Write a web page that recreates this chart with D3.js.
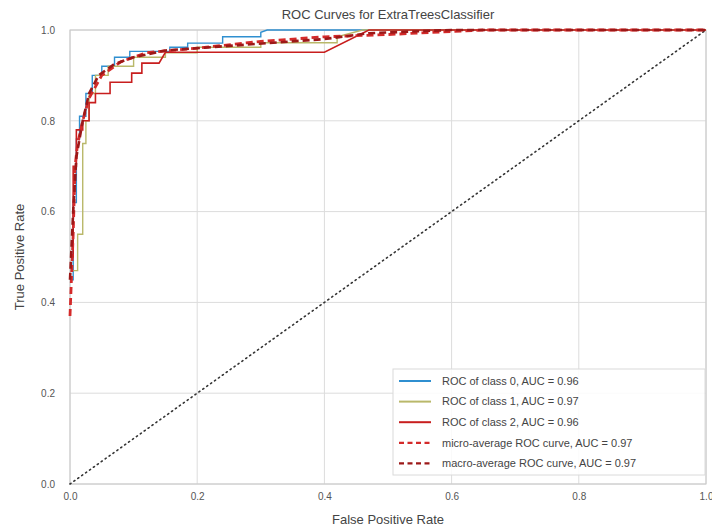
<!DOCTYPE html>
<html lang="en">
<head>
<meta charset="UTF-8">
<title>ROC Curves for ExtraTreesClassifier</title>
<script src="https://d3js.org/d3.v7.min.js"></script>
<style>
    body { margin: 0; background: #fff; }
    text { font-family: "Liberation Sans", Arial, sans-serif; }
</style>
</head>
<body>
<svg width="712" height="531"></svg>
<script>
// fpr / tpr pairs
const class0Fpr = [0, 0.005, 0.005, 0.01, 0.01, 0.015, 0.015, 0.025, 0.025, 0.035, 0.035, 0.05, 0.05, 0.07, 0.07, 0.094, 0.094, 0.157, 0.157, 0.185, 0.185, 0.24, 0.24, 0.30, 0.30, 0.31, 1];
const class0Tpr = [0.45, 0.45, 0.62, 0.62, 0.76, 0.76, 0.81, 0.81, 0.86, 0.86, 0.90, 0.90, 0.92, 0.92, 0.94, 0.94, 0.953, 0.953, 0.962, 0.962, 0.971, 0.971, 0.985, 0.985, 0.995, 1, 1];

const class1Fpr = [0.005, 0.012, 0.012, 0.02, 0.02, 0.025, 0.025, 0.03, 0.03, 0.04, 0.04, 0.06, 0.06, 0.1, 0.1, 0.15, 0.15, 0.2, 0.2, 0.3, 0.3, 0.42, 0.42, 0.46, 1];
const class1Tpr = [0.47, 0.47, 0.55, 0.55, 0.75, 0.75, 0.80, 0.80, 0.86, 0.86, 0.90, 0.90, 0.92, 0.92, 0.94, 0.94, 0.95, 0.95, 0.962, 0.962, 0.972, 0.972, 0.985, 1, 1];

const class2Fpr = [0, 0.005, 0.005, 0.01, 0.01, 0.02, 0.02, 0.03, 0.03, 0.04, 0.04, 0.063, 0.063, 0.097, 0.097, 0.113, 0.113, 0.14, 0.15, 0.40, 0.47, 1];
const class2Tpr = [0.50, 0.50, 0.70, 0.70, 0.78, 0.78, 0.80, 0.80, 0.84, 0.84, 0.86, 0.86, 0.885, 0.885, 0.905, 0.905, 0.927, 0.927, 0.951, 0.951, 1, 1];

const microFpr = [0, 0.005, 0.008, 0.012, 0.02, 0.03, 0.05, 0.08, 0.12, 0.2, 0.3, 0.4, 0.5, 0.65, 1];
const microTpr = [0.37, 0.55, 0.70, 0.75, 0.80, 0.85, 0.90, 0.93, 0.95, 0.96, 0.975, 0.985, 0.99, 1, 1];

const macroFpr = [0, 0.005, 0.01, 0.02, 0.03, 0.045, 0.07, 0.1, 0.15, 0.25, 0.4, 0.47, 0.6, 1];
const macroTpr = [0.45, 0.60, 0.72, 0.80, 0.86, 0.90, 0.925, 0.94, 0.955, 0.965, 0.98, 0.993, 1, 1];

const ticks = [0, 0.2, 0.4, 0.6, 0.8, 1.0];

const series = [
    {label: 'ROC of class 0, AUC = 0.96', fpr: class0Fpr, tpr: class0Tpr, color: '#2f8fd0', width: 1.4, dash: null},
    {label: 'ROC of class 1, AUC = 0.97', fpr: class1Fpr, tpr: class1Tpr, color: '#b9b86a', width: 1.4, dash: null},
    {label: 'ROC of class 2, AUC = 0.96', fpr: class2Fpr, tpr: class2Tpr, color: '#c81e1e', width: 1.6, dash: null},
    {label: 'micro-average ROC curve, AUC = 0.97', fpr: microFpr, tpr: microTpr, color: '#d42a2a', width: 2.8, dash: '7,4'},
    {label: 'macro-average ROC curve, AUC = 0.97', fpr: macroFpr, tpr: macroTpr, color: '#9c1818', width: 2.6, dash: '7,4'}
];

const plotL = 70, plotR = 706, plotT = 30, plotB = 484;

const x = d3.scaleLinear().domain([0, 1]).range([plotL, plotR]);
const y = d3.scaleLinear().domain([0, 1]).range([plotB, plotT]);

const svg = d3.select('svg');

// grid
svg.append('g')
    .selectAll('line')
    .data(ticks)
    .enter().append('line')
    .attr('x1', d => x(d)).attr('x2', d => x(d))
    .attr('y1', plotT).attr('y2', plotB)
    .style('stroke', '#dcdcdc').style('stroke-width', 1);

svg.append('g')
    .selectAll('line')
    .data(ticks)
    .enter().append('line')
    .attr('x1', plotL).attr('x2', plotR)
    .attr('y1', d => y(d)).attr('y2', d => y(d))
    .style('stroke', '#dcdcdc').style('stroke-width', 1);

svg.append('rect')
    .attr('x', plotL).attr('y', plotT)
    .attr('width', plotR - plotL).attr('height', plotB - plotT)
    .style('fill', 'none').style('stroke', '#c8c8c8');

// axes, labels only
const xAxis = svg.append('g')
    .attr('transform', `translate(0, ${plotB})`)
    .call(d3.axisBottom(x).tickValues(ticks).tickFormat(d3.format('.1f')).tickSize(0).tickPadding(9));
const yAxis = svg.append('g')
    .attr('transform', `translate(${plotL}, 0)`)
    .call(d3.axisLeft(y).tickValues(ticks).tickFormat(d3.format('.1f')).tickSize(0).tickPadding(15));
[xAxis, yAxis].forEach(a => {
    a.select('.domain').remove();
    a.selectAll('text')
        .style('font-family', '"Liberation Sans", Arial, sans-serif')
        .style('font-size', '10px')
        .style('fill', '#555');
});

// chance line
svg.append('line')
    .attr('x1', x(0)).attr('y1', y(0))
    .attr('x2', x(1)).attr('y2', y(1))
    .style('stroke', '#333')
    .style('stroke-width', 1.6)
    .style('stroke-dasharray', '1.2,3.6')
    .style('stroke-linecap', 'round');

const line = d3.line().x(d => x(d[0])).y(d => y(d[1]));

series.forEach(s => {
    svg.append('path')
        .datum(d3.zip(s.fpr, s.tpr))
        .attr('d', line)
        .style('fill', 'none')
        .style('stroke', s.color)
        .style('stroke-width', s.width)
        .style('stroke-dasharray', s.dash);
});

// titles
svg.append('text')
    .attr('x', (plotL + plotR) / 2).attr('y', 19)
    .attr('text-anchor', 'middle')
    .style('font-size', '13px').style('fill', '#444')
    .text('ROC Curves for ExtraTreesClassifier');

svg.append('text')
    .attr('x', (plotL + plotR) / 2).attr('y', 524)
    .attr('text-anchor', 'middle')
    .style('font-size', '13px').style('fill', '#444')
    .text('False Positive Rate');

svg.append('text')
    .attr('transform', `translate(24, ${(plotT + plotB) / 2}) rotate(-90)`)
    .attr('text-anchor', 'middle')
    .style('font-size', '13px').style('fill', '#444')
    .text('True Positive Rate');

// legend
const legend = svg.append('g').attr('transform', 'translate(393, 369)');
legend.append('rect')
    .attr('width', 312).attr('height', 106)
    .style('fill', 'white').style('fill-opacity', 0.85)
    .style('stroke', '#dadada');

legend.selectAll('line')
    .data(series)
    .enter().append('line')
    .attr('x1', 6).attr('x2', 38)
    .attr('y1', (d, i) => 12 + i * 20.6).attr('y2', (d, i) => 12 + i * 20.6)
    .style('stroke', d => d.color)
    .style('stroke-width', d => d.dash ? 2.2 : 2)
    .style('stroke-dasharray', d => d.dash ? '5,3.5' : null);

legend.selectAll('text')
    .data(series)
    .enter().append('text')
    .attr('x', 49)
    .attr('y', (d, i) => 12 + i * 20.6)
    .attr('dy', '0.35em')
    .style('font-size', '11px').style('fill', '#444')
    .text(d => d.label);
</script>
</body>
</html>
